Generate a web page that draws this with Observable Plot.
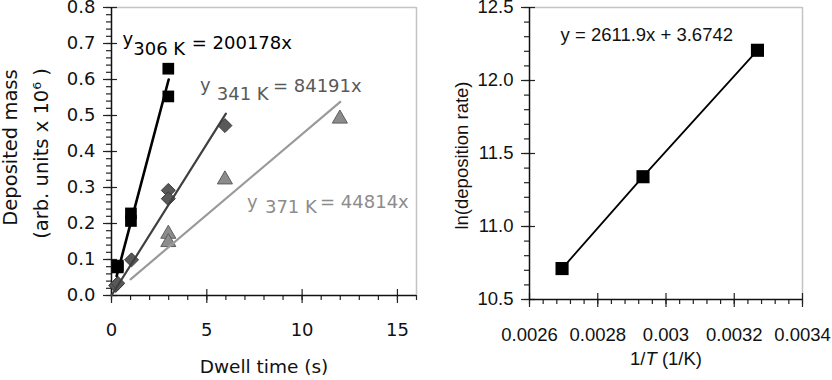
<!DOCTYPE html>
<html>
<head>
<meta charset="utf-8">
<script src="https://cdn.jsdelivr.net/npm/d3@7"></script>
<script src="https://cdn.jsdelivr.net/npm/@observablehq/plot@0.6"></script>
<style>
  body { margin: 0; background: #fff; }
  #wrap { position: relative; width: 832px; height: 380px; overflow: hidden; background: #fff; }
  #left, #right { position: absolute; top: 0; }
  #left { left: 0; }
  #right { left: 420px; }
</style>
</head>
<body>
<div id="wrap"><div id="left"></div><div id="right"></div></div>
<script>
// ---------------- Left panel data ----------------
const dwell306 = [0.33, 0.33, 1.02, 1.02, 2.98, 2.98];
const mass306  = [0.083, 0.078, 0.228, 0.207, 0.630, 0.553];
const dwell341 = [0.22, 0.33, 1.05, 2.98, 2.98, 5.95];
const mass341  = [0.028, 0.034, 0.099, 0.292, 0.269, 0.472];
const dwell371 = [2.98, 2.98, 5.95, 11.98];
const mass371  = [0.171, 0.148, 0.322, 0.491];

const fitDwell306 = [0.27, 3.0];  const fitMass306 = [0.054, 0.600];
const fitDwell341 = [0.0, 6.0];   const fitMass341 = [0.0, 0.505];
const fitDwell371 = [1.0, 12.0];  const fitMass371 = [0.045, 0.538];

const seriesTemp = ["306 K", "341 K", "371 K"];
const seriesEq   = ["= 200178x", "= 84191x", "= 44814x"];
const eqYX    = [0.577, 4.64, 7.11];   const eqYY    = [0.697, 0.567, 0.242];
const eqSubX  = [1.14, 5.52, 8.05];    const eqSubY  = [0.667, 0.542, 0.228];
const eqRestX = [4.21, 8.47, 10.94];   const eqRestY = [0.686, 0.564, 0.244];

const xTicksL = [0, 5, 10, 15];
const xTickLabelsL = ["0", "5", "10", "15"];
const yTicksL = [0, 0.1, 0.2, 0.3, 0.4, 0.5, 0.6, 0.7, 0.8];
const yTickLabelsL = ["0.0", "0.1", "0.2", "0.3", "0.4", "0.5", "0.6", "0.7", "0.8"];

// ---------------- Right panel data ----------------
const invT   = [0.0026954, 0.0029326, 0.0032680];
const lnRate = [10.712, 11.341, 12.207];
const fitLabel = "y = 2611.9x + 3.6742";
const fitLabelX = 0.002691, fitLabelY = 12.269;

const xTicksR = [0.0026, 0.0028, 0.003, 0.0032, 0.0034];
const xTickLabelsR = ["0.0026", "0.0028", "0.003", "0.0032", "0.0034"];
const yTicksR = [10.5, 11.0, 11.5, 12.0, 12.5];
const yTickLabelsR = ["10.5", "11.0", "11.5", "12.0", "12.5"];

// ---------------- helpers ----------------
const zip = (xs, ys) => xs.map((x, i) => ({x, y: ys[i]}));

const seriesColor = ["#000000", "#595959", "#8c8c8c"];
const tickColor = "#222";
const frameColor = "#c4c4c4";

// ---------------- Left chart ----------------
const fontL = "'DejaVu Sans', sans-serif";
const annoMarks = [];
seriesTemp.forEach((tmp, i) => {
  annoMarks.push(
    Plot.text([0], {x: () => eqYX[i], y: () => eqYY[i], text: () => "y", fill: seriesColor[i], textAnchor: "start", lineAnchor: "bottom", fontSize: 18}),
    Plot.text([0], {x: () => eqSubX[i], y: () => eqSubY[i], text: () => tmp, fill: seriesColor[i], textAnchor: "start", lineAnchor: "bottom", fontSize: 18}),
    Plot.text([0], {x: () => eqRestX[i], y: () => eqRestY[i], text: () => seriesEq[i], fill: seriesColor[i], textAnchor: "start", lineAnchor: "bottom", fontSize: 18})
  );
});

const leftChart = Plot.plot({
  width: 420, height: 380,
  marginLeft: 111, marginRight: 4, marginTop: 7, marginBottom: 85,
  style: {fontFamily: fontL, fontSize: "18px", color: "#111", background: "white", overflow: "visible"},
  x: {domain: [0, 16], label: null},
  y: {domain: [0, 0.8], label: null},
  marks: [
    Plot.ruleY([yTicksL[yTicksL.length - 1]], {stroke: frameColor, strokeWidth: 1.5}),
    Plot.ruleX([16], {stroke: frameColor, strokeWidth: 1.5}),
    Plot.axisX(d3.range(0, 16.001, 1), {anchor: "bottom", tickSize: 5, stroke: tickColor, strokeWidth: 1.2, fill: "none", tickFormat: () => ""}),
    Plot.axisX(xTicksL, {anchor: "bottom", tickSize: 14, dy: -6, stroke: tickColor, strokeWidth: 1.2, fill: "none", tickFormat: () => ""}),
    Plot.axisY(d3.range(0, 0.8001, 0.02), {anchor: "left", tickSize: 5, stroke: tickColor, strokeWidth: 1.2, fill: "none", tickFormat: () => ""}),
    Plot.axisY(yTicksL, {anchor: "left", tickSize: 14, dx: 6, stroke: tickColor, strokeWidth: 1.2, fill: "none", tickFormat: () => ""}),
    Plot.text(xTicksL, {x: d => d, frameAnchor: "bottom", dy: 28, lineAnchor: "top", textAnchor: "middle", text: (d, i) => xTickLabelsL[i], fontSize: 18, fill: "#111"}),
    Plot.text(yTicksL, {y: d => d, frameAnchor: "left", dx: -16, lineAnchor: "middle", textAnchor: "end", text: (d, i) => yTickLabelsL[i], fontSize: 18, fill: "#111"}),
    Plot.ruleX([0], {stroke: "#111", strokeWidth: 1.5}),
    Plot.ruleY([0], {stroke: "#111", strokeWidth: 1.5}),
    Plot.dot(zip(dwell371, mass371), {x: "x", y: "y", symbol: "triangle", r: 5.6, fill: "#8c8c8c", stroke: "#5e5e5e", strokeWidth: 1}),
    Plot.dot(zip(dwell341, mass341), {x: "x", y: "y", symbol: "diamond2", r: 6.3, fill: "#595959", stroke: "#3a3a3a", strokeWidth: 1}),
    Plot.dot(zip(dwell306, mass306), {x: "x", y: "y", symbol: "square", r: 6.6, fill: "#000", stroke: "none"}),
    Plot.line(zip(fitDwell371, fitMass371), {x: "x", y: "y", stroke: "#9a9a9a", strokeWidth: 2.2}),
    Plot.line(zip(fitDwell341, fitMass341), {x: "x", y: "y", stroke: "#404040", strokeWidth: 2.2}),
    Plot.line(zip(fitDwell306, fitMass306), {x: "x", y: "y", stroke: "#000", strokeWidth: 2.6}),
    ...annoMarks,
    Plot.text(["Dwell time (s)"], {frameAnchor: "bottom", dy: 72, lineAnchor: "middle", textAnchor: "middle", fontSize: 18.5, fill: "#111"}),
    Plot.text(["Deposited mass"], {frameAnchor: "left", rotate: -90, dx: -101, dy: -4, lineAnchor: "middle", textAnchor: "middle", fontSize: 19.5, fill: "#111"}),
    Plot.text(["(arb. units x 10\u2076 )"], {frameAnchor: "left", rotate: -90, dx: -70, dy: 2, lineAnchor: "middle", textAnchor: "middle", fontSize: 19.5, fill: "#111"})
  ]
});
document.getElementById("left").appendChild(leftChart);

// ---------------- Right chart ----------------
const fontR = "'Liberation Sans', Arial, sans-serif";
const rightChart = Plot.plot({
  width: 412, height: 380,
  marginLeft: 109, marginRight: 30, marginTop: 7, marginBottom: 81,
  style: {fontFamily: fontR, fontSize: "18.5px", color: "#111", background: "white", overflow: "visible"},
  x: {domain: [xTicksR[0], xTicksR[xTicksR.length - 1]], label: null},
  y: {domain: [yTicksR[0], yTicksR[yTicksR.length - 1]], label: null},
  marks: [
    Plot.ruleY([yTicksR[yTicksR.length - 1]], {stroke: frameColor, strokeWidth: 1.5}),
    Plot.ruleX([xTicksR[xTicksR.length - 1]], {stroke: frameColor, strokeWidth: 1.5}),
    Plot.axisX(d3.range(0.0026, 0.00340001, 0.00004), {anchor: "bottom", tickSize: 5, stroke: tickColor, strokeWidth: 1.2, fill: "none", tickFormat: () => ""}),
    Plot.axisX(xTicksR, {anchor: "bottom", tickSize: 14, dy: -6, stroke: tickColor, strokeWidth: 1.2, fill: "none", tickFormat: () => ""}),
    Plot.axisY(d3.range(10.5, 12.5001, 0.1), {anchor: "left", tickSize: 5, stroke: tickColor, strokeWidth: 1.2, fill: "none", tickFormat: () => ""}),
    Plot.axisY(yTicksR, {anchor: "left", tickSize: 14, dx: 6, stroke: tickColor, strokeWidth: 1.2, fill: "none", tickFormat: () => ""}),
    Plot.text(xTicksR, {x: d => d, frameAnchor: "bottom", dy: 28, lineAnchor: "top", textAnchor: "middle", text: (d, i) => xTickLabelsR[i], fontSize: 18.5, fill: "#111"}),
    Plot.text(yTicksR, {y: d => d, frameAnchor: "left", dx: -16, lineAnchor: "middle", textAnchor: "end", text: (d, i) => yTickLabelsR[i], fontSize: 18.5, fill: "#111"}),
    Plot.ruleX([xTicksR[0]], {stroke: "#111", strokeWidth: 1.5}),
    Plot.ruleY([yTicksR[0]], {stroke: "#111", strokeWidth: 1.5}),
    Plot.line(zip(invT, lnRate), {x: "x", y: "y", stroke: "#000", strokeWidth: 1.8}),
    Plot.dot(zip(invT, lnRate), {x: "x", y: "y", symbol: "square", r: 7.4, fill: "#000", stroke: "none"}),
    Plot.text([0], {x: () => fitLabelX, y: () => fitLabelY, text: () => fitLabel, textAnchor: "start", lineAnchor: "bottom", fill: "#111", fontSize: 18.5}),
    Plot.text(["1/T (1/K)"], {frameAnchor: "bottom", dy: 60, lineAnchor: "middle", textAnchor: "middle", fontSize: 18.5, fill: "#111"}),
    Plot.text(["ln(deposition rate)"], {frameAnchor: "left", rotate: -90, dx: -67, dy: 2, lineAnchor: "middle", textAnchor: "middle", fontSize: 18.5, fill: "#111"})
  ]
});
document.getElementById("right").appendChild(rightChart);

// italic T in the x-axis title
d3.select(rightChart).selectAll("text").filter(function () { return this.textContent === "1/T (1/K)"; })
  .each(function () {
    const t = d3.select(this);
    t.text("");
    t.append("tspan").text("1/");
    t.append("tspan").attr("font-style", "italic").text("T");
    t.append("tspan").text(" (1/K)");
  });
</script>
</body>
</html>
